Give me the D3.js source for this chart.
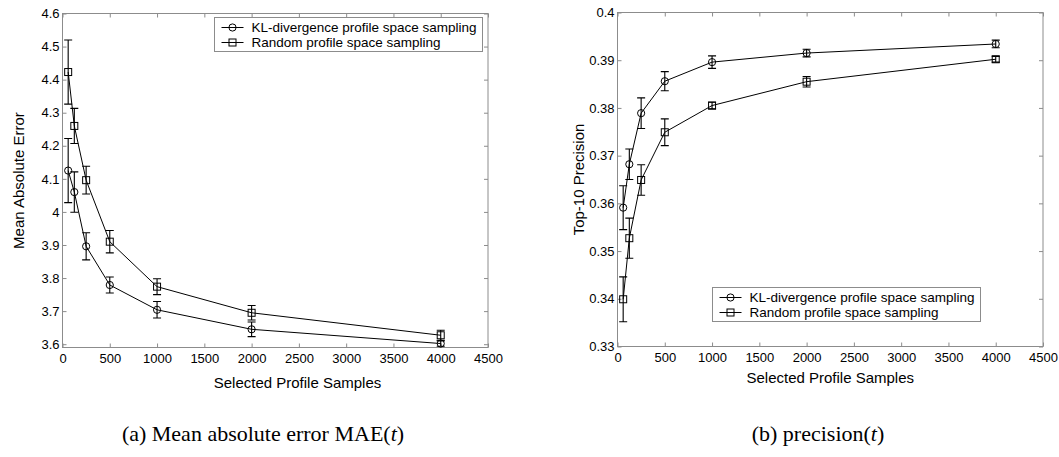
<!DOCTYPE html>
<html>
<head>
<meta charset="utf-8">
<script src="https://cdn.jsdelivr.net/npm/d3@7"></script>
<style>
  body { margin: 0; background: #fff; }
  text { font-family: "Liberation Sans", Arial, sans-serif; fill: #000; }
</style>
</head>
<body>
<div id="chart"></div>
<script>
// The data
var samples = [60, 125, 250, 500, 1000, 2000, 4000];

var maeKL = [4.125, 4.060, 3.896, 3.779, 3.704, 3.645, 3.602];
var maeKLErr = [0.097, 0.061, 0.041, 0.024, 0.025, 0.022, 0.008];
var maeRandom = [4.423, 4.260, 4.096, 3.910, 3.774, 3.695, 3.627];
var maeRandomErr = [0.097, 0.053, 0.042, 0.034, 0.024, 0.022, 0.015];

var precKL = [0.3591, 0.3682, 0.3789, 0.3856, 0.3896, 0.3915, 0.3934];
var precKLErr = [0.0046, 0.0032, 0.0032, 0.0020, 0.0013, 0.0008, 0.0008];
var precRandom = [0.3399, 0.3527, 0.3649, 0.3749, 0.3805, 0.3855, 0.3902];
var precRandomErr = [0.0047, 0.0042, 0.0032, 0.0028, 0.0007, 0.0011, 0.0006];

var seriesNames = ['KL-divergence profile space sampling', 'Random profile space sampling'];

var xTicks = [0, 500, 1000, 1500, 2000, 2500, 3000, 3500, 4000, 4500];
var maeTicks = [3.6, 3.7, 3.8, 3.9, 4.0, 4.1, 4.2, 4.3, 4.4, 4.5, 4.6];
var precTicks = [0.33, 0.34, 0.35, 0.36, 0.37, 0.38, 0.39, 0.40];

var width = 1059, height = 457;
var boxColor = '#8c8c8c';

var svg = d3.select('#chart').append('svg')
    .attr('width', width)
    .attr('height', height);

function drawPanel(p) {
  var x = d3.scaleLinear().domain([0, 4500]).range([0, p.w]);
  var y = d3.scaleLinear().domain(p.yDomain).range([p.h, 0]);

  var g = svg.append('g')
      .attr('transform', 'translate(' + p.left + ',' + p.top + ')');

  // axes, ticks pointing inward like matlab
  var fmt = function(d) { return d3.format('~g')(+d.toFixed(3)); };

  g.append('g')
      .attr('transform', 'translate(0,' + p.h + ')')
      .call(d3.axisBottom(x).tickValues(xTicks).tickSizeInner(-4).tickSizeOuter(0).tickPadding(6).tickFormat(d3.format('d')));
  g.append('g')
      .call(d3.axisTop(x).tickValues(xTicks).tickSizeInner(-4).tickSizeOuter(0).tickFormat(''));
  g.append('g')
      .call(d3.axisLeft(y).tickValues(p.yTicks).tickSizeInner(-4).tickSizeOuter(0).tickPadding(3).tickFormat(fmt));
  g.append('g')
      .attr('transform', 'translate(' + p.w + ',0)')
      .call(d3.axisRight(y).tickValues(p.yTicks).tickSizeInner(-4).tickSizeOuter(0).tickFormat(''));

  g.selectAll('.domain').remove();
  g.selectAll('.tick line').attr('stroke', boxColor);
  g.selectAll('.tick text')
      .style('font-size', '13px')
      .attr('fill', '#000');

  g.append('rect')
      .attr('width', p.w)
      .attr('height', p.h)
      .attr('fill', 'none')
      .attr('stroke', boxColor);

  // axis titles
  g.append('text')
      .attr('x', p.xLabelX)
      .attr('y', p.xLabelY)
      .attr('text-anchor', 'middle')
      .style('font-size', '15px')
      .text('Selected Profile Samples');
  g.append('text')
      .attr('transform', 'translate(' + p.yLabelX + ',' + (p.h / 2) + ') rotate(-90)')
      .attr('text-anchor', 'middle')
      .style('font-size', '15px')
      .text(p.yLabel);

  var line = d3.line()
      .x(function(d) { return x(d.s); })
      .y(function(d) { return y(d.v); });

  p.series.forEach(function(se, k) {
    var pts = samples.map(function(s, i) { return { s: s, v: se.values[i], e: se.err[i] }; });
    var sg = g.append('g');

    sg.append('path')
        .datum(pts)
        .attr('d', line)
        .attr('fill', 'none')
        .attr('stroke', '#000')
        .attr('stroke-width', 1);

    // error bars
    sg.selectAll('.err')
        .data(pts)
        .enter()
      .append('path')
        .attr('d', function(d) {
          var cx = x(d.s), y0 = y(d.v - d.e), y1 = y(d.v + d.e);
          return 'M' + cx + ',' + y0 + 'V' + y1 +
                 'M' + (cx - 4) + ',' + y0 + 'H' + (cx + 4) +
                 'M' + (cx - 4) + ',' + y1 + 'H' + (cx + 4);
        })
        .attr('fill', 'none')
        .attr('stroke', '#000')
        .attr('stroke-width', 1.1);

    drawMarkers(sg, pts.map(function(d) { return [x(d.s), y(d.v)]; }), k);
  });

  // legend
  var lg = svg.append('g')
      .attr('transform', 'translate(' + p.legX + ',' + p.legY + ')');
  lg.append('rect')
      .attr('width', 268)
      .attr('height', 34)
      .attr('fill', '#fff')
      .attr('stroke', boxColor);
  seriesNames.forEach(function(name, k) {
    var ry = 10 + k * 15;
    lg.append('line')
        .attr('x1', 7).attr('x2', 29)
        .attr('y1', ry).attr('y2', ry)
        .attr('stroke', '#000');
    drawMarkers(lg, [[18, ry]], k);
    lg.append('text')
        .attr('x', 37)
        .attr('y', ry)
        .attr('dy', '0.36em')
        .style('font-size', '13.5px')
        .text(name);
  });
}

function drawMarkers(sel, coords, k) {
  if (k === 0) {
    sel.selectAll(null)
        .data(coords)
        .enter()
      .append('circle')
        .attr('cx', function(d) { return d[0]; })
        .attr('cy', function(d) { return d[1]; })
        .attr('r', 3.6)
        .attr('fill', 'none')
        .attr('stroke', '#000');
  } else {
    sel.selectAll(null)
        .data(coords)
        .enter()
      .append('rect')
        .attr('x', function(d) { return d[0] - 3.5; })
        .attr('y', function(d) { return d[1] - 3.5; })
        .attr('width', 7)
        .attr('height', 7)
        .attr('fill', 'none')
        .attr('stroke', '#000');
  }
}

drawPanel({
  left: 62.5, top: 13.5, w: 425.5, h: 334,
  yDomain: [3.59, 4.6], yTicks: maeTicks,
  yLabel: 'Mean Absolute Error', yLabelX: -39,
  xLabelX: 235, xLabelY: 374,
  series: [
    { values: maeKL, err: maeKLErr },
    { values: maeRandom, err: maeRandomErr }
  ],
  legX: 214.5, legY: 17.5
});

drawPanel({
  left: 617.5, top: 12.5, w: 425.5, h: 334,
  yDomain: [0.33, 0.40], yTicks: precTicks,
  yLabel: 'Top-10 Precision', yLabelX: -34,
  xLabelX: 212.75, xLabelY: 370,
  series: [
    { values: precKL, err: precKLErr },
    { values: precRandom, err: precRandomErr }
  ],
  legX: 712.5, legY: 287.5
});

// captions
var capA = svg.append('text')
    .attr('x', 263)
    .attr('y', 441)
    .attr('text-anchor', 'middle')
    .style('font-family', '"Liberation Serif", "Times New Roman", serif')
    .style('font-size', '22px');
capA.append('tspan').text('(a) Mean absolute error MAE(');
capA.append('tspan').style('font-style', 'italic').text('t');
capA.append('tspan').text(')');

var capB = svg.append('text')
    .attr('x', 818)
    .attr('y', 441)
    .attr('text-anchor', 'middle')
    .style('font-family', '"Liberation Serif", "Times New Roman", serif')
    .style('font-size', '22px');
capB.append('tspan').text('(b) precision(');
capB.append('tspan').style('font-style', 'italic').text('t');
capB.append('tspan').text(')');
</script>
</body>
</html>
